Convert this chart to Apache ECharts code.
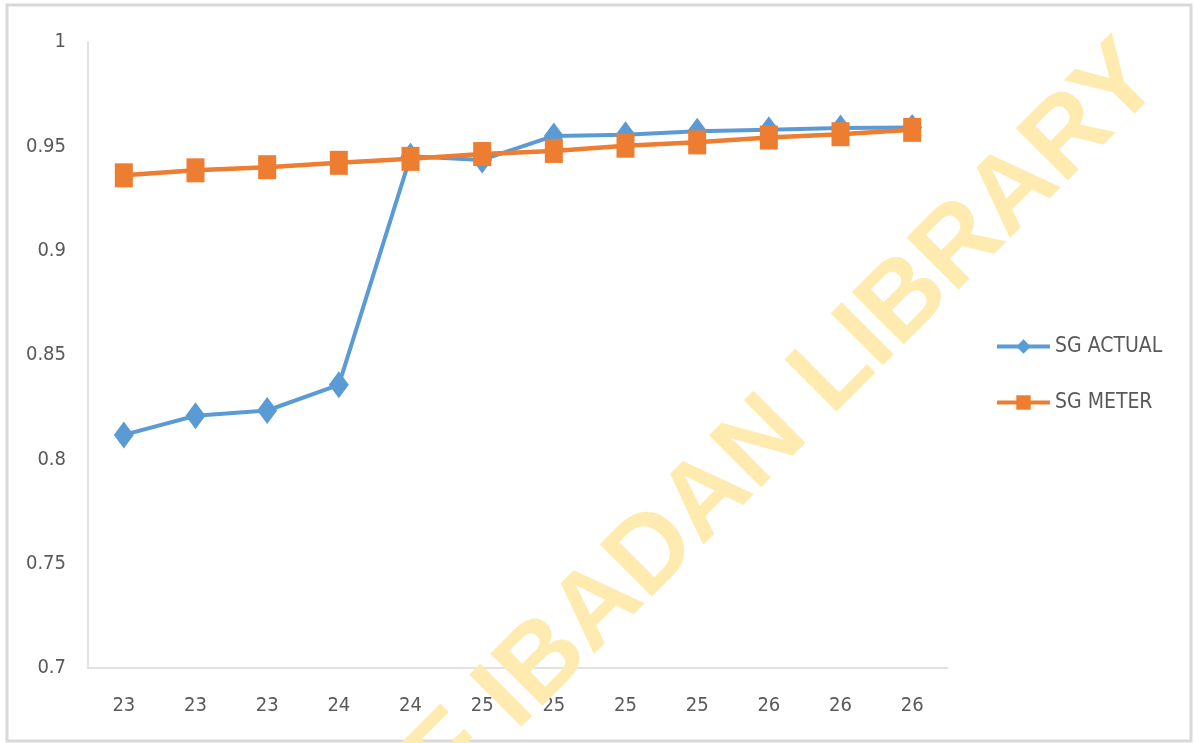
<!DOCTYPE html>
<html>
<head>
<meta charset="utf-8">
<title>SG actual vs SG meter</title>
<script src="https://cdn.jsdelivr.net/npm/echarts@6/dist/echarts.min.js"></script>
<style>
  html, body { margin: 0; padding: 0; background: #fff; }
  #chart { width: 1194px; height: 743px; }
</style>
</head>
<body>
<div id="chart"></div>
<script>
// values
const categories = ['23', '23', '23', '24', '24', '25', '25', '25', '25', '26', '26', '26'];
const sgActual = [0.8117, 0.8209, 0.8234, 0.8357, 0.9452, 0.9435, 0.955, 0.9555, 0.9572, 0.958, 0.9588, 0.959];
const sgMeter = [0.9361, 0.9385, 0.940, 0.9421, 0.944, 0.9463, 0.9478, 0.9503, 0.9519, 0.9542, 0.9558, 0.9579];
const yTicks = { min: 0.7, max: 1, interval: 0.05 };

const font = "'DejaVu Sans Condensed', 'Liberation Sans Narrow', sans-serif";
const grey = '#595959';

const myChart = echarts.init(document.getElementById('chart'));

const option = {
  animation: false,
  backgroundColor: '#fff',
  grid: {
    left: 88,
    top: 42,
    width: 860,
    height: 626
  },
  legend: {
    orient: 'vertical',
    left: 990,
    top: 331,
    itemWidth: 53,
    itemHeight: 18,
    itemGap: 35,
    lineStyle: { width: 4 },
    textStyle: { fontFamily: font, fontSize: 21, color: grey },
    data: ['SG ACTUAL', 'SG METER']
  },
  xAxis: {
    type: 'category',
    data: categories,
    boundaryGap: true,
    axisLine: { lineStyle: { color: '#d9d9d9', width: 1.5 } },
    axisTick: { show: false },
    axisLabel: { fontFamily: font, fontSize: 20, color: grey, margin: 28, interval: 0 }
  },
  yAxis: {
    type: 'value',
    min: yTicks.min,
    max: yTicks.max,
    interval: yTicks.interval,
    axisLine: { show: true, lineStyle: { color: '#d9d9d9', width: 1.5 } },
    axisTick: { show: false },
    splitLine: { show: false },
    axisLabel: { fontFamily: font, fontSize: 20, color: grey, margin: 22 }
  },
  graphic: [
    {
      type: 'rect',
      shape: { x: 7, y: 5, width: 1184, height: 736 },
      style: { fill: 'none', stroke: '#d9d9d9', lineWidth: 3 },
      silent: true,
      z: -1
    },
    {
      // diagonal library watermark
      type: 'text',
      x: 1182,
      y: 100,
      rotation: Math.PI / 4,
      silent: true,
      z: 1,
      style: {
        text: 'UNIVERSITY OF IBADAN LIBRARY',
        font: "bold 107px 'Liberation Sans', Arial, sans-serif",
        fill: '#ffebaf',
        align: 'right',
        verticalAlign: 'bottom'
      }
    }
  ],
  series: [
    {
      name: 'SG ACTUAL',
      type: 'line',
      data: sgActual,
      symbol: 'diamond',
      symbolSize: [20, 27],
      lineStyle: { color: '#5b9bd5', width: 4 },
      itemStyle: { color: '#5b9bd5' },
      z: 3
    },
    {
      name: 'SG METER',
      type: 'line',
      data: sgMeter,
      symbol: 'rect',
      symbolSize: [18, 24],
      lineStyle: { color: '#ed7d31', width: 4.5 },
      itemStyle: { color: '#ed7d31' },
      z: 4
    }
  ]
};

myChart.setOption(option);
window.onresize = function () {
  myChart.resize();
};
</script>
</body>
</html>
